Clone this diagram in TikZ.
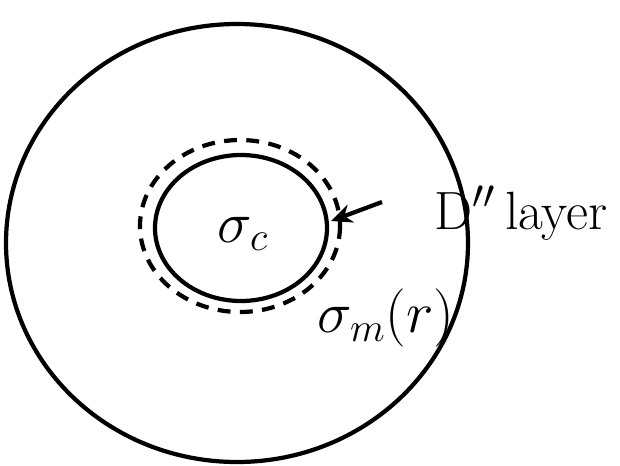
\documentclass[tikz,border=0pt]{standalone}
\usetikzlibrary{arrows.meta}

\begin{document}
\begin{tikzpicture}[x=0.03cm, y=-0.03cm, line width=3.6pt,
    every node/.style={font=\fontsize{23}{25}\selectfont, inner sep=0pt, scale=2},
    layerline/.style={dash pattern=on 11pt off 8pt}]
  \useasboundingbox (0,0) rectangle (620,465);

  % Mantle outline
  \draw (237,243) ellipse [x radius=231, y radius=219];

  % Core and the D'' layer round it
  \draw (241,228) ellipse [x radius=86, y radius=73];
  \draw[layerline] (240,226) ellipse [x radius=100, y radius=86];
  \node (core) at (243,234) {$\sigma_c$};

  % Labels
  \node (dlabel) at (521,213) {D$^{\prime\prime}$\,layer};
  \node (mlabel) at (386,318) {$\sigma_m(r)$};
  \coordinate (dtail) at (382,202);
  \coordinate (dtip) at (331,221);
  \draw[-{Stealth[length=18pt,width=16pt]}] (dtail) -- (dtip);
\end{tikzpicture}
\end{document}
